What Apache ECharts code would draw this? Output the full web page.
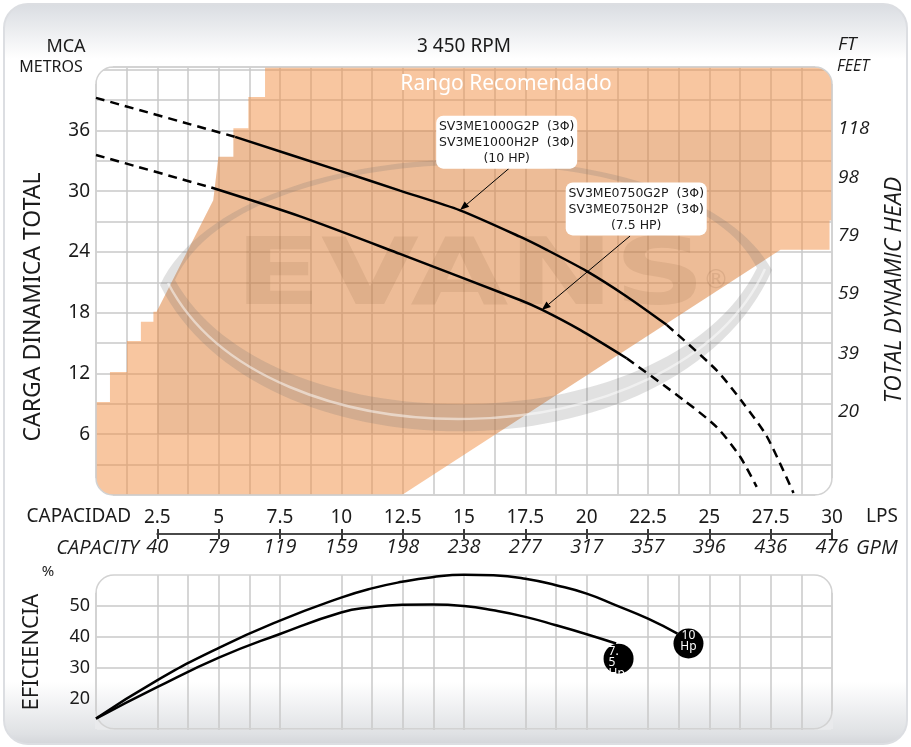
<!DOCTYPE html>
<html><head><meta charset="utf-8">
<script src="https://cdn.jsdelivr.net/npm/echarts@6/dist/echarts.min.js"></script>
<style>html,body{margin:0;padding:0;background:#fff}#c{width:911px;height:747px}</style>
</head><body><div id="c"></div>
<script>
// ---------------- DATA ----------------
const LPS_TICKS = [2.5, 5, 7.5, 10, 12.5, 15, 17.5, 20, 22.5, 25, 27.5, 30];
const GPM_LABELS = ['40', '79', '119', '159', '198', '238', '277', '317', '357', '396', '436', '476'];
const HEAD_TICKS = [6, 12, 18, 24, 30, 36];
const FEET_LABELS = ['118', '98', '79', '59', '39', '20'];
const FEET_POS_M = [36.2, 31.3, 25.6, 19.9, 14.0, 8.2];
const EFF_TICKS = [20, 30, 40, 50];
const EFF_GRID_GAPS = [1.25, 8.75, 16.25, 21.25];

// recommended range polygon (LPS, m)
const RANGE_X = [0, 0, 0.57, 0.57, 1.26, 1.26, 1.83, 1.83, 2.34, 2.34, 2.47, 4.78, 4.99, 5.6, 5.6, 6.21, 6.21, 6.89, 6.89, 30, 30, 29.9, 29.9, 27.9, 12.47];
const RANGE_Y = [0, 9.18, 9.18, 12.14, 12.14, 15.2, 15.2, 17.1, 17.1, 18.1, 18.1, 29.1, 33.4, 33.4, 36.2, 36.2, 39.3, 39.3, 42.25, 42.25, 27.1, 27.1, 24.2, 24.2, 0];
const SHADE_BOX = [2.5, 27.5, 6, 36];

// head curves (LPS, m)
const HP10_DASH_A = [[0, 39.2], [5.67, 35.35]];
const HP10_SOLID = [[5.67, 35.35], [9.95, 32.0], [12.39, 30.05], [14.84, 28.1], [17.28, 25.5], [18.37, 24.2], [20.0, 22.1], [21.63, 19.6], [23.26, 16.8]];
const HP10_DASH_B = [[23.26, 16.8], [25.3, 12.3], [26.37, 9.1], [27.34, 5.8], [28.43, 0.2]];
const HP75_DASH_A = [[0, 33.56], [4.7, 30.35]];
const HP75_SOLID = [[4.7, 30.35], [8.32, 27.5], [12.39, 23.8], [17.28, 19.25], [18.17, 18.3], [19.73, 16.3], [21.63, 13.5]];
const HP75_DASH_B = [[21.63, 13.5], [23.94, 9.4], [25.3, 6.7], [26.25, 3.8], [26.93, 0.8]];

// annotations (LPS, m)
const NOTE10_TEXT = ['SV3ME1000G2P  (3Φ)', 'SV3ME1000H2P  (3Φ)', '(10 HP)'];
const NOTE10_BOX = [16.74, 34.83];
const NOTE10_FROM = [16.84, 32.25];
const NOTE10_TO = [14.84, 28.13];
const NOTE75_TEXT = ['SV3ME0750G2P  (3Φ)', 'SV3ME0750H2P  (3Φ)', '(7.5 HP)'];
const NOTE75_BOX = [22.02, 28.24];
const NOTE75_FROM = [21.77, 25.57];
const NOTE75_TO = [18.17, 18.26];

// efficiency curves (LPS, %)
const EFF10 = [[0, 13.7], [2.49, 26.0], [5.03, 36.6], [7.47, 45.2], [9.99, 52.7], [11.2, 55.6], [12.47, 57.8], [13.7, 59.3], [15.0, 60.1], [16.2, 59.9], [17.5, 58.8], [18.75, 56.7], [20, 54], [21.2, 50.2], [22.5, 45.9], [23.7, 41.1]];
const EFF75 = [[0, 13.7], [2.49, 23.8], [5.03, 33.4], [7.47, 40.9], [9.99, 47.9], [11.2, 49.6], [12.47, 50.4], [13.7, 50.5], [15.0, 50.0], [16.2, 48.6], [17.5, 46.5], [18.75, 43.8], [20, 40.9], [21.2, 37.9]];
const EFF_MARKS = [[24.15, 37.9], [21.3, 33.0]];
const EFF_MARK_TEXT = ['10\nHp', '7.\n5\nHp'];

// ---------------- HELPERS ----------------
function clipPoly(pts, xmin, xmax, ymin, ymax) {
  const edges = [
    [p => p[0] >= xmin, (a, b) => { const t = (xmin - a[0]) / (b[0] - a[0]); return [xmin, a[1] + t * (b[1] - a[1])]; }],
    [p => p[0] <= xmax, (a, b) => { const t = (xmax - a[0]) / (b[0] - a[0]); return [xmax, a[1] + t * (b[1] - a[1])]; }],
    [p => p[1] >= ymin, (a, b) => { const t = (ymin - a[1]) / (b[1] - a[1]); return [a[0] + t * (b[0] - a[0]), ymin]; }],
    [p => p[1] <= ymax, (a, b) => { const t = (ymax - a[1]) / (b[1] - a[1]); return [a[0] + t * (b[0] - a[0]), ymax]; }]
  ];
  let out = pts;
  for (const [inside, inter] of edges) {
    const inp = out; out = [];
    for (let i = 0; i < inp.length; i++) {
      const cur = inp[i], prev = inp[(i + inp.length - 1) % inp.length];
      if (inside(cur)) { if (!inside(prev)) out.push(inter(prev, cur)); out.push(cur); }
      else if (inside(prev)) out.push(inter(prev, cur));
    }
  }
  return out;
}
const RANGE_PTS = RANGE_X.map((x, i) => [x, RANGE_Y[i]]);
const SHADE_PTS = clipPoly(RANGE_PTS, SHADE_BOX[0], SHADE_BOX[1], SHADE_BOX[2], SHADE_BOX[3]);
const NOTES = [
  { text: NOTE10_TEXT, box: NOTE10_BOX, from: NOTE10_FROM, to: NOTE10_TO },
  { text: NOTE75_TEXT, box: NOTE75_BOX, from: NOTE75_FROM, to: NOTE75_TO }
];
const near = (a, b) => Math.abs(a - b) < 1e-6;

const SANS = '"Noto Sans", "DejaVu Sans", sans-serif';
const ITAL = '"Open Sans", "DejaVu Sans", sans-serif';
const GRID_C = '#c9c9c9';

const effXColors = [];
for (let k = 0; k <= 24; k++) {
  const v = k * 1.25;
  effXColors.push(EFF_GRID_GAPS.some(g => near(g, v)) ? 'rgba(0,0,0,0)' : GRID_C);
}
const effYColors = [10, 20, 30, 40, 50, 60].map(v => (v >= 30 && v <= 50) ? GRID_C : 'rgba(0,0,0,0)');

// ---------------- CHART ----------------
const chart = echarts.init(document.getElementById('c'), null, { renderer: 'canvas' });

function lineSeries(data, dashed, xi, yi, smooth) {
  return {
    type: 'line', xAxisIndex: xi, yAxisIndex: yi, data: data, showSymbol: false, symbol: 'none',
    smooth: smooth, clip: false, silent: true, z: 4,
    lineStyle: { color: '#000', width: 2.5, type: dashed ? [9, 6] : 'solid' }
  };
}

function cornerMaskGroup(api, xi0, xi1, yi0, yi1, r, colTop, colBot) {
  const a = api.coord([xi0, yi1]), b = api.coord([xi1, yi0]);
  const x0 = a[0], y0 = a[1], x1 = b[0], y1 = b[1];
  const mk = (d, c) => ({ type: 'path', shape: { pathData: d }, style: { fill: c } });
  return { type: 'group', children: [
    mk(`M${x0 - 1} ${y0 - 1} L${x0 + r} ${y0 - 1} L${x0 + r} ${y0} A${r} ${r} 0 0 0 ${x0} ${y0 + r} L${x0 - 1} ${y0 + r} Z`, colTop),
    mk(`M${x1 + 1} ${y0 - 1} L${x1 + 1} ${y0 + r} L${x1} ${y0 + r} A${r} ${r} 0 0 0 ${x1 - r} ${y0} L${x1 - r} ${y0 - 1} Z`, colTop),
    mk(`M${x1 + 1} ${y1 + 1} L${x1 - r} ${y1 + 1} L${x1 - r} ${y1} A${r} ${r} 0 0 0 ${x1} ${y1 - r} L${x1 + 1} ${y1 - r} Z`, colBot),
    mk(`M${x0 - 1} ${y1 + 1} L${x0 - 1} ${y1 - r} L${x0} ${y1 - r} A${r} ${r} 0 0 0 ${x0 + r} ${y1} L${x0 + r} ${y1 + 1} Z`, colBot),
    { type: 'rect', shape: { x: x0, y: y0, width: x1 - x0, height: y1 - y0, r: r }, style: { fill: null, stroke: '#d2d2d2', lineWidth: 1.5 } }
  ] };
}

function txt(text, x, y, font, opts) {
  return Object.assign({ type: 'text', x: x, y: y, z: 10, silent: true,
    style: Object.assign({ text: text, font: font, fill: '#1b1b1b', align: 'center', verticalAlign: 'middle' }, (opts && opts.style) || {}) },
    opts && opts.el ? opts.el : {});
}

const WM = 'rgba(115,115,115,0.21)';
const graphics = [
  { type: 'rect', z: -10, silent: true, shape: { x: 4, y: 4, width: 903, height: 740, r: 24 },
    style: { fill: { type: 'linear', x: 0, y: 0, x2: 0, y2: 1, colorStops: [
      { offset: 0, color: '#d9dce1' }, { offset: 0.075, color: '#ffffff' }, { offset: 0.915, color: '#ffffff' },
      { offset: 0.985, color: '#dfe1e4' }, { offset: 1, color: '#d3d5d9' }] }, stroke: '#dcdee2', lineWidth: 2 } },
  { type: 'rect', z: -5, silent: true, shape: { x: 96, y: 67, width: 736, height: 428, r: 17 }, style: { fill: '#fff' } },
  { type: 'text', z: 2, silent: true, x: 470, y: 280, scaleX: 1.375,
    style: { text: 'EVANS', font: 'bold 92px "DejaVu Sans"', fill: 'rgba(110,70,40,0.11)', align: 'center', verticalAlign: 'middle' } },
  { type: 'text', z: 2, silent: true, x: 716, y: 281,
    style: { text: '®', font: '26px "DejaVu Sans"', fill: 'rgba(110,70,40,0.13)', align: 'center', verticalAlign: 'middle' } },
  txt('MCA', 66, 47, '18px ' + SANS),
  txt('METROS', 51, 67, '16px ' + SANS),
  txt('3 450 RPM', 464, 47, '19px ' + SANS),
  txt('FT', 838, 45, 'italic 19px ' + ITAL, { style: { align: 'left' } }),
  txt('FEET', 837, 66, 'italic 16px ' + ITAL, { style: { align: 'left' } }),
  txt('Rango Recomendado', 506, 84, '21px ' + SANS, { style: { fill: '#ffffff' } }),
  txt('CARGA DINAMICA TOTAL', 33, 307, '23px ' + SANS, { el: { rotation: Math.PI / 2 } }),
  txt('TOTAL DYNAMIC HEAD', 894, 290, 'italic 23px ' + ITAL, { el: { rotation: Math.PI / 2 } }),
  txt('CAPACIDAD', 131, 517, '19px ' + SANS, { style: { align: 'right' } }),
  txt('LPS', 866, 517, '19px ' + SANS, { style: { align: 'left' } }),
  txt('CAPACITY', 139, 548, 'italic 20px ' + ITAL, { style: { align: 'right' } }),
  txt('GPM', 856, 548, 'italic 20px ' + ITAL, { style: { align: 'left' } }),
  txt('EFICIENCIA', 32, 652, '22px ' + SANS, { el: { rotation: Math.PI / 2 } }),
  txt('%', 48, 572, '15px ' + SANS)
];

const option = {
  animation: false,
  backgroundColor: '#ffffff',
  grid: [
    { left: 96, top: 67, width: 736, height: 428, containLabel: false },
    { left: 157.3, top: 533, width: 674.7, height: 1, containLabel: false },
    { left: 96, top: 575, width: 736, height: 155, containLabel: false }
  ],
  xAxis: [
    { gridIndex: 0, type: 'value', min: 0, max: 30, interval: 1.25,
      axisLine: { show: false }, axisTick: { show: false }, axisLabel: { show: false },
      splitLine: { show: true, lineStyle: { color: GRID_C, width: 1.5 } } },
    { gridIndex: 1, type: 'value', position: 'top', min: 2.5, max: 30, interval: 2.5,
      axisLine: { show: false }, splitLine: { show: false },
      axisTick: { show: true, length: 5, lineStyle: { color: '#3a3a3a', width: 2 } },
      axisLabel: { show: true, margin: 6, color: '#1b1b1b', fontSize: 19, fontFamily: SANS,
        formatter: v => { const i = LPS_TICKS.findIndex(t => near(t, v)); return i < 0 ? '' : String(LPS_TICKS[i]); } } },
    { gridIndex: 1, type: 'value', position: 'bottom', min: 2.5, max: 30, interval: 2.5,
      axisLine: { show: true, lineStyle: { color: '#4a4a4a', width: 2 } }, splitLine: { show: false },
      axisTick: { show: true, length: 5, lineStyle: { color: '#3a3a3a', width: 2 } },
      axisLabel: { show: true, margin: 3, color: '#1b1b1b', fontSize: 20, fontStyle: 'italic', fontFamily: ITAL,
        formatter: v => { const i = LPS_TICKS.findIndex(t => near(t, v)); return i < 0 ? '' : GPM_LABELS[i]; } } },
    { gridIndex: 2, type: 'value', min: 0, max: 30, interval: 1.25,
      axisLine: { show: false }, axisTick: { show: false }, axisLabel: { show: false },
      splitLine: { show: true, lineStyle: { color: effXColors, width: 1.5 } } }
  ],
  yAxis: [
    { gridIndex: 0, type: 'value', min: 0, max: 42.25, interval: 3,
      axisLine: { show: false }, axisTick: { show: false },
      axisLabel: { show: true, margin: 6, color: '#1b1b1b', fontSize: 19, fontFamily: SANS,
        formatter: v => HEAD_TICKS.some(t => near(t, v)) ? String(Math.round(v)) : '' },
      splitLine: { show: true, lineStyle: { color: GRID_C, width: 1.5 } } },
    { gridIndex: 0, type: 'value', position: 'right', min: 0, max: 42.25,
      axisLine: { show: false }, axisTick: { show: false }, splitLine: { show: false },
      axisLabel: { show: true, margin: 6, color: '#1b1b1b', fontSize: 19, fontStyle: 'italic', fontFamily: ITAL,
        customValues: FEET_POS_M,
        formatter: v => { const i = FEET_POS_M.findIndex(p => near(p, v)); return i < 0 ? '' : FEET_LABELS[i]; } } },
    { gridIndex: 1, type: 'value', min: 0, max: 1, show: false },
    { gridIndex: 2, type: 'value', min: 10, max: 60, interval: 10,
      axisLine: { show: false }, axisTick: { show: false },
      axisLabel: { show: true, margin: 6, color: '#1b1b1b', fontSize: 18, fontFamily: SANS,
        formatter: v => EFF_TICKS.some(t => near(t, v)) ? String(Math.round(v)) : '' },
      splitLine: { show: true, lineStyle: { color: effYColors, width: 1.5 } } }
  ],
  graphic: { elements: graphics },
  series: [
    { type: 'custom', xAxisIndex: 0, yAxisIndex: 0, z: 1, silent: true, data: [[0, 0]],
      renderItem: (params, api) => ({ type: 'polygon', shape: { points: RANGE_PTS.map(p => api.coord(p)) },
        style: { fill: 'rgba(241,141,65,0.5)' } }) },
    { type: 'custom', xAxisIndex: 0, yAxisIndex: 0, z: 1, silent: true, data: [[0, 0]],
      renderItem: (params, api) => ({ type: 'polygon', shape: { points: SHADE_PTS.map(p => api.coord(p)) },
        style: { fill: 'rgba(60,30,10,0.06)' } }) },
    { type: 'custom', xAxisIndex: 0, yAxisIndex: 0, z: 2, silent: true, data: [[0, 0]],
      renderItem: () => ({ type: 'group', children: [
        { type: 'path', shape: { pathData:
          'M160 285 C260 485 680 480 772 270 C690 120 240 120 160 285 Z M175 280 C245 128 690 128 757 268 C670 445 270 450 175 280 Z' },
          style: { fill: WM } },
        { type: 'path', shape: { pathData: 'M168 283 C265 470 676 463 765 269' },
          style: { fill: null, stroke: 'rgba(255,255,255,0.5)', lineWidth: 2.5 } }
      ] }) },
    { type: 'custom', xAxisIndex: 0, yAxisIndex: 0, z: 3, silent: true, data: [[0, 0]],
      renderItem: (params, api) => cornerMaskGroup(api, 0, 30, 0, 42.25, 17, '#ffffff', '#ffffff') },
    { type: 'custom', xAxisIndex: 3, yAxisIndex: 3, z: 3, silent: true, data: [[0, 10]],
      renderItem: (params, api) => cornerMaskGroup(api, 0, 30, 10.4, 60, 18, '#ffffff', '#e9eaec') },
    lineSeries(HP10_DASH_A, true, 0, 0, 0.2),
    lineSeries(HP10_SOLID, false, 0, 0, 0.25),
    lineSeries(HP10_DASH_B, true, 0, 0, 0.25),
    lineSeries(HP75_DASH_A, true, 0, 0, 0.2),
    lineSeries(HP75_SOLID, false, 0, 0, 0.25),
    lineSeries(HP75_DASH_B, true, 0, 0, 0.25),
    { type: 'custom', xAxisIndex: 0, yAxisIndex: 0, z: 5, silent: true, data: NOTES.map((n, i) => [n.box[0], n.box[1], i]),
      renderItem: (params, api) => {
        const n = NOTES[params.dataIndex];
        const c = api.coord(n.box), f = api.coord(n.from), t = api.coord(n.to);
        const w = 141, h = 53;
        const ang = Math.atan2(t[1] - f[1], t[0] - f[0]);
        const L = 9, W = 3.5;
        const base = [t[0] - L * Math.cos(ang), t[1] - L * Math.sin(ang)];
        const p1 = [base[0] + W * Math.sin(ang), base[1] - W * Math.cos(ang)];
        const p2 = [base[0] - W * Math.sin(ang), base[1] + W * Math.cos(ang)];
        return { type: 'group', children: [
          { type: 'line', shape: { x1: f[0], y1: f[1], x2: base[0], y2: base[1] }, style: { stroke: '#000', lineWidth: 1 } },
          { type: 'polygon', shape: { points: [t, p1, p2] }, style: { fill: '#000' } },
          { type: 'rect', shape: { x: c[0] - w / 2, y: c[1] - h / 2, width: w, height: h, r: 7 }, style: { fill: '#fff' } },
          { type: 'text', x: c[0], y: c[1] + 1, style: { text: n.text.join('\n'), fill: '#1b1b1b', font: '12.5px "DejaVu Sans"',
            align: 'center', verticalAlign: 'middle', lineHeight: 16 } }
        ] };
      } },
    lineSeries(EFF10, false, 3, 3, 0.5),
    lineSeries(EFF75, false, 3, 3, 0.5),
    { type: 'scatter', xAxisIndex: 3, yAxisIndex: 3, z: 6, silent: true, symbol: 'circle', symbolSize: 30,
      itemStyle: { color: '#000', opacity: 1 },
      data: EFF_MARKS.map((p, i) => ({ value: p, name: EFF_MARK_TEXT[i],
        label: i === 0
          ? { show: true, position: 'inside', offset: [0, -2], formatter: '{b}', color: '#fff', fontSize: 12, lineHeight: 11, fontFamily: SANS }
          : { show: true, position: [5, 2], align: 'left', verticalAlign: 'top', formatter: '{b}', color: '#fff', fontSize: 12, lineHeight: 11, fontFamily: SANS } })) }
  ]
};
chart.setOption(option);
</script></body></html>
